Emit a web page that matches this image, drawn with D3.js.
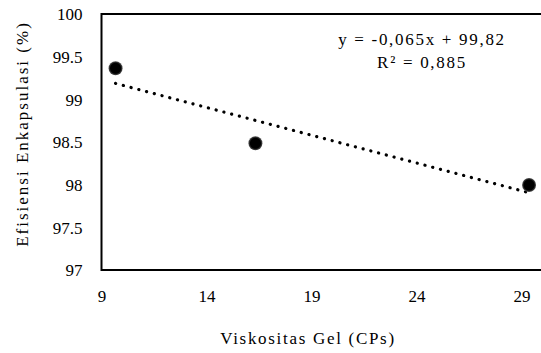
<!DOCTYPE html>
<html>
<head>
<meta charset="utf-8">
<script src="https://cdn.jsdelivr.net/npm/d3@7"></script>
<style>
  html, body { margin: 0; padding: 0; background: #fff; }
  svg { display: block; }
  svg text { font-family: 'Liberation Serif', 'Times New Roman', 'Liberation Sans', Arial, sans-serif; fill: #000; }
</style>
</head>
<body>
<svg id="chart" width="541" height="353"></svg>
<script>
// Data
const viscosity = [9.67, 16.33, 29.36];
const efficiency = [99.364, 98.485, 97.996];
const xTicks = [9, 14, 19, 24, 29];
const yTicks = [97, 97.5, 98, 98.5, 99, 99.5, 100];
const equationLines = ["y = -0,065x + 99,82", "R² = 0,885"];
const xTitle = "Viskositas Gel (CPs)";
const yTitle = "Efisiensi Enkapsulasi (%)";

const svg = d3.select("#chart");
const margin = { left: 101.5, top: 14, bottom: 270 };
const FS = "17px";

const x = d3.scaleLinear().domain([9, 30]).range([margin.left, margin.left + 21 * 21]);
const y = d3.scaleLinear().domain([97, 100]).range([margin.bottom, margin.top]);

// Plot area border (right side falls outside view)
svg.append("rect")
  .attr("x", x(9)).attr("y", y(100))
  .attr("width", x(30) - x(9)).attr("height", y(97) - y(100))
  .attr("fill", "none").attr("stroke", "#000").attr("stroke-width", 2);

// Y axis labels
const yAxis = d3.axisLeft(y).tickValues(yTicks).tickSize(0).tickPadding(19)
  .tickFormat(d => String(d));
const gy = svg.append("g").attr("transform", `translate(${x(9)},0)`).call(yAxis);
gy.attr("font-family", null);
gy.select(".domain").remove();
gy.selectAll("text").style("font-size", FS).attr("dy", "0.35em");

// X axis labels
const xAxis = d3.axisBottom(x).tickValues(xTicks).tickSize(0).tickPadding(20)
  .tickFormat(d => String(d));
const gx = svg.append("g").attr("transform", `translate(0,${y(97)})`).call(xAxis);
gx.attr("font-family", null);
gx.select(".domain").remove();
gx.selectAll("text").style("font-size", FS);

// Trendline via least squares
const n = viscosity.length;
const mx = d3.mean(viscosity), my = d3.mean(efficiency);
let sxy = 0, sxx = 0;
for (let i = 0; i < n; i++) {
  sxy += (viscosity[i] - mx) * (efficiency[i] - my);
  sxx += (viscosity[i] - mx) ** 2;
}
const slope = sxy / sxx, intercept = my - slope * mx;
const x0 = d3.min(viscosity), x1 = d3.max(viscosity);
svg.append("line")
  .attr("x1", x(x0)).attr("y1", y(slope * x0 + intercept))
  .attr("x2", x(x1)).attr("y2", y(slope * x1 + intercept))
  .attr("stroke", "#000").attr("stroke-width", 3.2)
  .attr("stroke-linecap", "round").attr("stroke-dasharray", "0.1,7.9");

// Markers
const defs = svg.append("defs");
const grad = defs.append("radialGradient").attr("id", "mk");
grad.append("stop").attr("offset", "0.72").attr("stop-color", "#000");
grad.append("stop").attr("offset", "1").attr("stop-color", "#555");
svg.selectAll("circle.pt").data(viscosity).enter().append("circle")
  .attr("class", "pt")
  .attr("cx", d => x(d))
  .attr("cy", (d, i) => y(efficiency[i]))
  .attr("r", 7)
  .attr("fill", "url(#mk)");

// Equation
svg.selectAll("text.eq").data(equationLines).enter().append("text")
  .attr("class", "eq")
  .attr("x", 422).attr("y", (d, i) => 45 + i * 23)
  .attr("text-anchor", "middle")
  .style("font-size", FS).style("letter-spacing", "1.7px")
  .text(d => d);

// Axis titles
svg.append("text")
  .attr("x", 308).attr("y", 344)
  .attr("text-anchor", "middle").style("font-size", FS).style("letter-spacing", "1.7px")
  .text(xTitle);
svg.append("text")
  .attr("transform", `translate(28,134) rotate(-90)`)
  .attr("text-anchor", "middle").style("font-size", FS).style("letter-spacing", "2px")
  .text(yTitle);
</script>
</body>
</html>
